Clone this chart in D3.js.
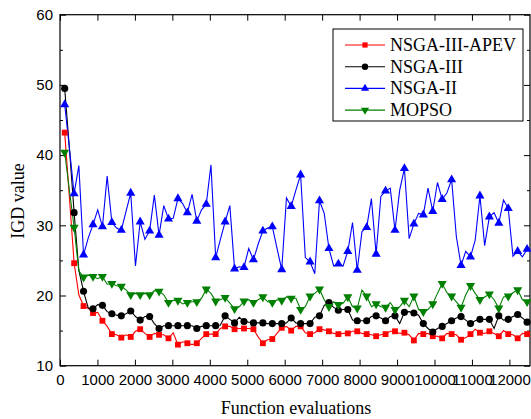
<!DOCTYPE html>
<html>
<head>
<meta charset="utf-8">
<script src="https://cdn.jsdelivr.net/npm/d3@7/dist/d3.min.js"></script>
<style>
  body { margin: 0; background: #fff; }
  svg { display: block; }
</style>
</head>
<body>
<svg id="chart" width="531" height="419"></svg>
<script>
// x: function evaluations (one sample per generation)
const evaluations = d3.range(99).map(i => 125 + 126 * i);

const seriesNames = ["NSGA-III-APEV", "NSGA-III", "NSGA-II", "MOPSO"];

const apevValues = [
  43.2, 34.0, 24.6, 20.1, 18.5, 18.2, 17.5, 17.6, 16.4, 15.6,
  14.5, 14.4, 14.0, 14.4, 14.1, 14.9, 15.2, 14.6, 14.1, 14.6,
  14.4, 14.4, 13.9, 14.7, 13.0, 13.4, 13.2, 13.0, 13.2, 13.9,
  14.5, 14.5, 14.5, 15.3, 15.6, 15.6, 15.2, 15.3, 15.3, 15.3,
  15.2, 14.1, 13.2, 13.7, 13.8, 14.6, 15.4, 15.6, 15.0, 15.6,
  15.6, 14.7, 14.5, 14.7, 15.2, 15.1, 14.9, 14.6, 14.5, 14.6,
  14.6, 14.9, 14.9, 14.6, 14.5, 14.4, 14.2, 14.4, 14.5, 14.9,
  14.9, 14.6, 14.7, 14.4, 13.6, 14.6, 14.5, 14.6, 14.2, 14.2,
  13.9, 14.6, 14.5, 14.4, 13.7, 14.0, 14.5, 15.2, 14.7, 14.6,
  14.9, 14.6, 14.2, 15.0, 14.5, 14.4, 13.9, 14.6, 14.5
];

const nsga3Values = [
  49.5, 41.0, 31.8, 23.6, 20.6, 18.2, 18.1, 18.7, 18.6, 17.7,
  17.4, 17.2, 17.1, 17.4, 17.8, 17.0, 16.5, 17.0, 17.0, 16.0,
  15.3, 15.7, 15.7, 15.7, 15.7, 15.7, 15.7, 15.7, 15.3, 15.6,
  15.7, 15.7, 15.7, 15.8, 17.1, 16.6, 16.1, 16.9, 16.3, 16.2,
  16.1, 16.1, 16.1, 16.0, 16.0, 16.0, 16.0, 16.1, 16.8, 16.1,
  16.0, 16.0, 16.0, 16.9, 17.1, 18.6, 19.0, 18.3, 17.9, 18.0,
  18.0, 16.5, 16.4, 16.4, 16.4, 17.0, 17.1, 16.8, 16.4, 17.0,
  17.1, 16.0, 17.6, 17.7, 17.5, 17.2, 16.0, 15.3, 14.8, 15.3,
  15.6, 16.0, 16.4, 16.8, 17.0, 16.5, 16.0, 16.4, 16.6, 16.6,
  16.6, 15.3, 17.1, 16.5, 16.6, 17.0, 17.3, 16.8, 16.2
];

const nsga2Values = [
  47.2, 41.0, 34.5, 38.5, 25.8, 28.2, 30.1, 32.2, 29.8, 37.0,
  30.4, 29.6, 29.3, 32.0, 34.6, 24.2, 30.5, 28.0, 29.2, 34.3,
  28.6, 32.8, 30.9, 31.0, 33.8, 33.1, 31.8, 34.4, 30.6, 32.2,
  33.0, 38.6, 25.4, 28.0, 30.5, 32.8, 23.8, 24.1, 24.0, 26.7,
  25.1, 27.3, 29.2, 29.6, 29.8, 26.7, 23.7, 33.9, 32.7, 35.0,
  37.2, 25.4, 24.8, 23.1, 33.5, 31.7, 26.7, 24.2, 24.5, 24.2,
  26.3, 30.4, 23.6, 29.1, 29.7, 33.8, 25.9, 34.1, 34.9, 35.3,
  29.3, 35.0, 38.1, 28.1, 30.2, 31.7, 31.5, 35.3, 32.0, 36.1,
  33.7, 34.6, 36.5, 28.4, 24.3, 26.3, 25.5, 27.9, 34.2, 27.1,
  31.2, 31.8, 30.3, 33.6, 32.4, 25.6, 26.3, 25.5, 26.6
];

const mopsoValues = [
  40.4, 35.0, 29.7, 23.5, 22.6, 22.9, 22.7, 22.4, 22.7, 21.6,
  21.7, 21.4, 21.3, 20.8, 20.1, 20.3, 20.1, 20.3, 20.1, 20.7,
  20.6, 20.1, 19.0, 19.3, 19.3, 18.8, 19.0, 19.1, 19.1, 19.6,
  20.9, 20.3, 19.2, 19.4, 19.7, 18.9, 18.1, 18.4, 19.2, 19.4,
  19.0, 19.4, 19.8, 19.1, 19.0, 19.4, 19.3, 19.8, 19.6, 19.6,
  18.0, 18.4, 19.9, 20.3, 20.9, 19.4, 18.4, 19.1, 18.7, 18.9,
  19.8, 18.4, 18.2, 20.8, 19.9, 18.4, 18.8, 18.4, 18.3, 19.0,
  18.0, 18.4, 19.3, 18.4, 19.9, 18.0, 17.7, 18.0, 18.8, 20.3,
  21.7, 20.4, 19.9, 19.1, 18.3, 20.1, 21.4, 20.3, 19.4, 19.8,
  20.2, 19.4, 18.2, 19.8, 19.9, 20.4, 20.8, 19.4, 19.1
];

const xTicks = d3.range(0, 12001, 1000);
const yTicks = [10, 20, 30, 40, 50, 60];
const yMinorTicks = [15, 25, 35, 45, 55];

const series = [
  { name: seriesNames[0], values: apevValues, color: "#ff0000", symbol: d3.symbolSquare, size: 34, rotate: 0 },
  { name: seriesNames[1], values: nsga3Values, color: "#000000", symbol: d3.symbolCircle, size: 40, rotate: 0 },
  { name: seriesNames[2], values: nsga2Values, color: "#0000ff", symbol: d3.symbolTriangle, size: 36, rotate: 0 },
  { name: seriesNames[3], values: mopsoValues, color: "#008000", symbol: d3.symbolTriangle, size: 36, rotate: 180 }
];

const margin = { left: 60, right: 1, top: 14.7, bottom: 53.3 };
const width = 531, height = 419;
const svg = d3.select("#chart");

const x = d3.scaleLinear().domain([0, 12550]).range([margin.left, width - margin.right]);
const y = d3.scaleLinear().domain([10, 60]).range([height - margin.bottom, margin.top]);

const tickFont = "'Liberation Sans', Arial, sans-serif";
const serifFont = "'Liberation Serif', 'Times New Roman', serif";

// axes (ticks point inward)
const gx = svg.append("g")
  .attr("transform", `translate(0,${y(10)})`)
  .call(d3.axisBottom(x).tickValues(xTicks).tickSize(-6).tickPadding(9).tickFormat(d3.format("d")));
const gxTop = svg.append("g")
  .attr("transform", `translate(0,${y(60)})`)
  .call(d3.axisTop(x).tickValues(xTicks).tickSize(-6).tickFormat(""));
const gy = svg.append("g")
  .attr("transform", `translate(${x(0)},0)`)
  .call(d3.axisLeft(y).tickValues(yTicks).tickSize(-6).tickPadding(7));
const gyRight = svg.append("g")
  .attr("transform", `translate(${x.range()[1]},0)`)
  .call(d3.axisRight(y).tickValues(yTicks).tickSize(-6).tickFormat(""));
svg.append("g")
  .attr("transform", `translate(${x(0)},0)`)
  .call(d3.axisLeft(y).tickValues(yMinorTicks).tickSize(-3).tickFormat(""));
svg.append("g")
  .attr("transform", `translate(${x.range()[1]},0)`)
  .call(d3.axisRight(y).tickValues(yMinorTicks).tickSize(-3).tickFormat(""));

svg.selectAll(".domain").remove();
svg.selectAll(".tick line").attr("stroke", "#000").attr("stroke-width", 1);
svg.selectAll(".tick text")
  .attr("font-family", tickFont)
  .attr("font-size", "15px")
  .attr("fill", "#000");

// frame
svg.append("rect")
  .attr("x", x.range()[0])
  .attr("y", y(60))
  .attr("width", x.range()[1] - x.range()[0])
  .attr("height", y(10) - y(60))
  .attr("fill", "none")
  .attr("stroke", "#000")
  .attr("stroke-width", 1.2);

// lines + markers
const line = d3.line()
  .x((d, i) => x(evaluations[i]))
  .y(d => y(d));

const plot = svg.append("g");
series.forEach(s => {
  plot.append("path")
    .datum(s.values)
    .attr("fill", "none")
    .attr("stroke", s.color)
    .attr("stroke-width", 1.1)
    .attr("d", line);
});
series.forEach(s => {
  plot.append("g")
    .selectAll("path")
    .data(s.values.map((v, i) => ({ v, i })).filter(d => d.i % 2 === 0))
    .join("path")
    .attr("d", d3.symbol().type(s.symbol).size(s.size))
    .attr("transform", d => `translate(${x(evaluations[d.i])},${y(d.v)}) rotate(${s.rotate})`)
    .attr("fill", s.color);
});

// legend
const legend = svg.append("g");
legend.append("rect")
  .attr("x", 333).attr("y", 29)
  .attr("width", 190).attr("height", 92)
  .attr("fill", "#fff")
  .attr("stroke", "#000")
  .attr("stroke-width", 1);
series.forEach((s, i) => {
  const ly = 45 + i * 21.7;
  legend.append("line")
    .attr("x1", 345).attr("x2", 385)
    .attr("y1", ly).attr("y2", ly)
    .attr("stroke", s.color)
    .attr("stroke-width", 1.1);
  legend.append("path")
    .attr("d", d3.symbol().type(s.symbol).size(s.size * 0.8)())
    .attr("transform", `translate(365,${ly}) rotate(${s.rotate})`)
    .attr("fill", s.color);
  legend.append("text")
    .attr("x", 390).attr("y", ly)
    .attr("dy", "0.33em")
    .attr("font-family", serifFont)
    .attr("font-size", "18px")
    .text(s.name);
});

// axis titles
svg.append("text")
  .attr("x", 296).attr("y", 414)
  .attr("text-anchor", "middle")
  .attr("font-family", serifFont)
  .attr("font-size", "18px")
  .text("Function evaluations");
svg.append("text")
  .attr("transform", "translate(24,201) rotate(-90)")
  .attr("text-anchor", "middle")
  .attr("font-family", serifFont)
  .attr("font-size", "18px")
  .text("IGD value");
</script>
</body>
</html>
